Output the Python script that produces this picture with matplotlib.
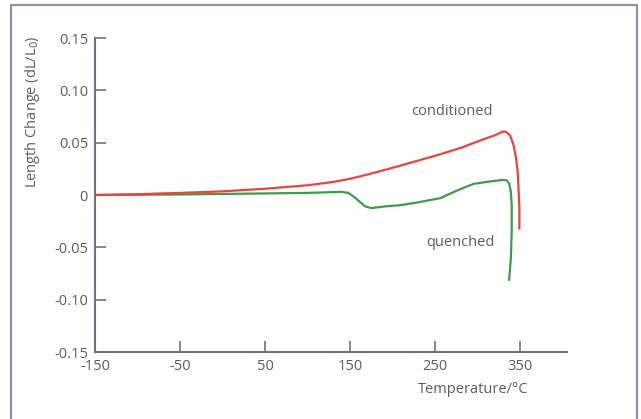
import numpy as np
import matplotlib.pyplot as plt
from matplotlib.patches import Rectangle

# conditioned sample (red)
cond_t = [-150, -100, -50, 0, 50, 100, 130, 150, 170, 200, 250, 280, 306, 320,
          329, 333, 338, 342, 345, 347, 348, 349, 349]
cond_dl = [0.0, 0.0008, 0.002, 0.0035, 0.006, 0.0093, 0.0125, 0.0155, 0.0195, 0.026,
           0.0375, 0.045, 0.053, 0.057, 0.0605, 0.0605, 0.057, 0.048, 0.036, 0.022,
           0.006, -0.012, -0.032]

# quenched sample (green)
quen_t = [-150, -50, 50, 100, 140, 148, 155, 162, 168, 175, 190, 210, 230, 256, 275,
          295, 315, 329, 334, 337, 339, 340, 340, 339, 337]
quen_dl = [0.0, 0.0005, 0.0015, 0.002, 0.003, 0.002, -0.002, -0.007, -0.011, -0.0125,
           -0.011, -0.0096, -0.007, -0.003, 0.004, 0.0106, 0.013, 0.0144, 0.014, 0.011,
           0.003, -0.01, -0.035, -0.06, -0.081]

x_ticks = [-150, -50, 50, 150, 250, 350]
y_ticks = [-0.15, -0.10, -0.05, 0, 0.05, 0.10, 0.15]
y_labels = ['-0.15', '-0.10', '-0.05', '0', '0.05', '0.10', '0.15']

plt.rcParams['font.family'] = ['Open Sans', 'DejaVu Sans']
plt.rcParams['axes.unicode_minus'] = False
grey = '#5a5d66'
axis_col = '#6e7180'

fig = plt.figure(figsize=(6.41, 4.19), dpi=100)
# outer frame round the chart
fig.add_artist(Rectangle((11/641, -0.05), 626/641, 1.05 - 5/419, transform=fig.transFigure,
                         fill=False, edgecolor='#8e92a2', linewidth=1.6))

ax = fig.add_axes([95/641, 1 - 352/419, 472/641, 314/419])
ax.plot(quen_t, quen_dl, color='#3f9a4e', linewidth=1.6, solid_joinstyle='round')
ax.plot(cond_t, cond_dl, color='#e8453c', linewidth=1.6, solid_joinstyle='round')

ax.set_xlim(-150, 405)
ax.set_ylim(-0.15, 0.15)
ax.set_xticks(x_ticks)
ax.set_xticklabels([str(t) for t in x_ticks])
ax.set_yticks(y_ticks)
ax.set_yticklabels(y_labels)
ax.tick_params(direction='in', length=8, width=1.2, color=axis_col,
               labelcolor=grey, labelsize=10.5, pad=5)
for s in ['top', 'right']:
    ax.spines[s].set_visible(False)
for s in ['left', 'bottom']:
    ax.spines[s].set_color(axis_col)
    ax.spines[s].set_linewidth(1.5)

ax.text(270, 0.080, 'conditioned', color=grey, fontsize=10.5, ha='center', va='center')
ax.text(280, -0.045, 'quenched', color=grey, fontsize=10.5, ha='center', va='center')
fig.text(473/641, 1 - 389/419, 'Temperature/°C', color=grey, fontsize=10.5, ha='center', va='center')
fig.text(33/641, 1 - 112/419, 'Length Change (dL/L$_0$)', color=grey, fontsize=10.5,
         ha='center', va='center', rotation=90)

fig.savefig('out.png', dpi=100)
